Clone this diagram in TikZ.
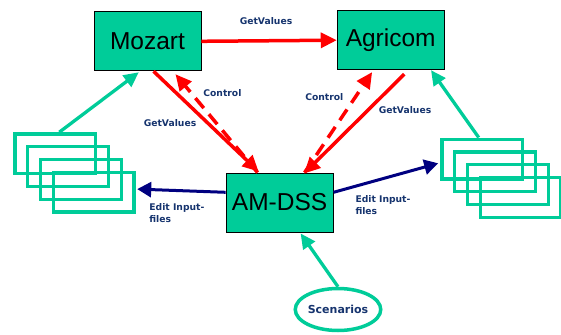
\documentclass[tikz,border=0pt]{standalone}
\usepackage{fontspec}
\setmainfont{Liberation Sans}
\newfontfamily\lblfont{DejaVu Sans}
\usetikzlibrary{shapes,arrows.meta}
\definecolor{dssgreen}{RGB}{0,204,153}
\definecolor{dssnavy}{RGB}{0,0,128}
\definecolor{lbltext}{RGB}{22,52,110}
\definecolor{dssred}{RGB}{255,0,0}
\begin{document}
\begin{tikzpicture}[x=1pt,y=-1pt]
\tikzstyle{model}=[rectangle,draw=black,line width=0.9pt,fill=dssgreen,minimum width=107pt,minimum height=59pt,inner sep=0pt,font=\fontsize{24.5}{26}\selectfont]
\tikzstyle{infile}=[rectangle,draw=dssgreen,line width=3.3pt,minimum width=80.7pt,minimum height=39.7pt,inner sep=0pt]
\tikzstyle{lbl}=[text=lbltext,inner sep=0pt,font=\lblfont\bfseries\fontsize{9.2}{12.6}\selectfont]
\tikzstyle{getarrow}=[draw=dssred,line width=3.5pt,-{Triangle[length=16pt,width=15pt]}]
\tikzstyle{ctrlarrow}=[getarrow,dash pattern=on 13pt off 8pt]
\tikzstyle{editarrow}=[draw=dssnavy,line width=3pt,-{Triangle[length=14pt,width=15pt]}]
\tikzstyle{feedarrow}=[draw=dssgreen,line width=3.3pt,-{Triangle[length=15pt,width=14pt]}]
\useasboundingbox (0,0) rectangle (561,334);
% models
\node[model] (mozart) at (147.5,41.3) {Mozart};
\node[model] (agricom) at (390.7,40.2) {Agricom};
\node[model] (amdss) at (279.6,202.5) {AM-DSS};
\node[ellipse,draw=dssgreen,line width=3.5pt,minimum width=77pt,minimum height=42pt,inner sep=0pt,lbl] (scen) at (338,309.5) {\fontsize{11}{13}\selectfont Scenarios};
% input files
\foreach \i in {1,...,4} {
  \node[infile] (lin\i) at (55.3+12.8*\i-12.8,153.7+12.8*\i-12.8) {};
  \node[infile] (rin\i) at (482.2+12.8*\i-12.8,159+12.8*\i-12.8) {};
}
% connectors
\draw[getarrow] (mozart.east) -- (agricom.west);
\draw[getarrow] ([xshift=6pt]mozart.south) -- ([xshift=-21pt,yshift=1pt]amdss.north);
\draw[ctrlarrow] ([xshift=-22pt]amdss.north) -- ([xshift=28pt,yshift=-3pt]mozart.south);
\draw[getarrow] ([xshift=13.6pt,yshift=-4pt]agricom.south) -- ([xshift=24.4pt,yshift=-1pt]amdss.north);
\draw[ctrlarrow] ([xshift=25pt]amdss.north) -- ([xshift=-18.6pt,yshift=-2pt]agricom.south);
\draw[editarrow] ([yshift=10.2pt]amdss.west) -- ([xshift=1.5pt,yshift=3pt]lin4.east);
\draw[editarrow] ([yshift=10.2pt]amdss.east) -- ([xshift=-2pt,yshift=-4.3pt]rin1.west);
\draw[feedarrow] ([xshift=4pt]lin1.north) -- ([xshift=-8.7pt,yshift=-1pt]mozart.south);
\draw[feedarrow] ([xshift=-3.5pt]rin1.north) -- ([xshift=40.3pt]agricom.south);
\draw[feedarrow] (scen.north) -- ([xshift=21pt,yshift=-1pt]amdss.south);
% labels
\node[lbl] (gv1) at (266,21) {GetValues};
\node[lbl] (gv2) at (170,123.3) {GetValues};
\node[lbl] (gv3) at (405,110.3) {GetValues};
\node[lbl] (ct1) at (222.4,93.3) {Control};
\node[lbl] (ct2) at (324.3,96.7) {Control};
\node[lbl,align=left,anchor=west] (ed1) at (149.2,213) {Edit Input-\\files};
\node[lbl,align=left,anchor=west] (ed2) at (355.3,205) {Edit Input-\\files};
\end{tikzpicture}
\end{document}
